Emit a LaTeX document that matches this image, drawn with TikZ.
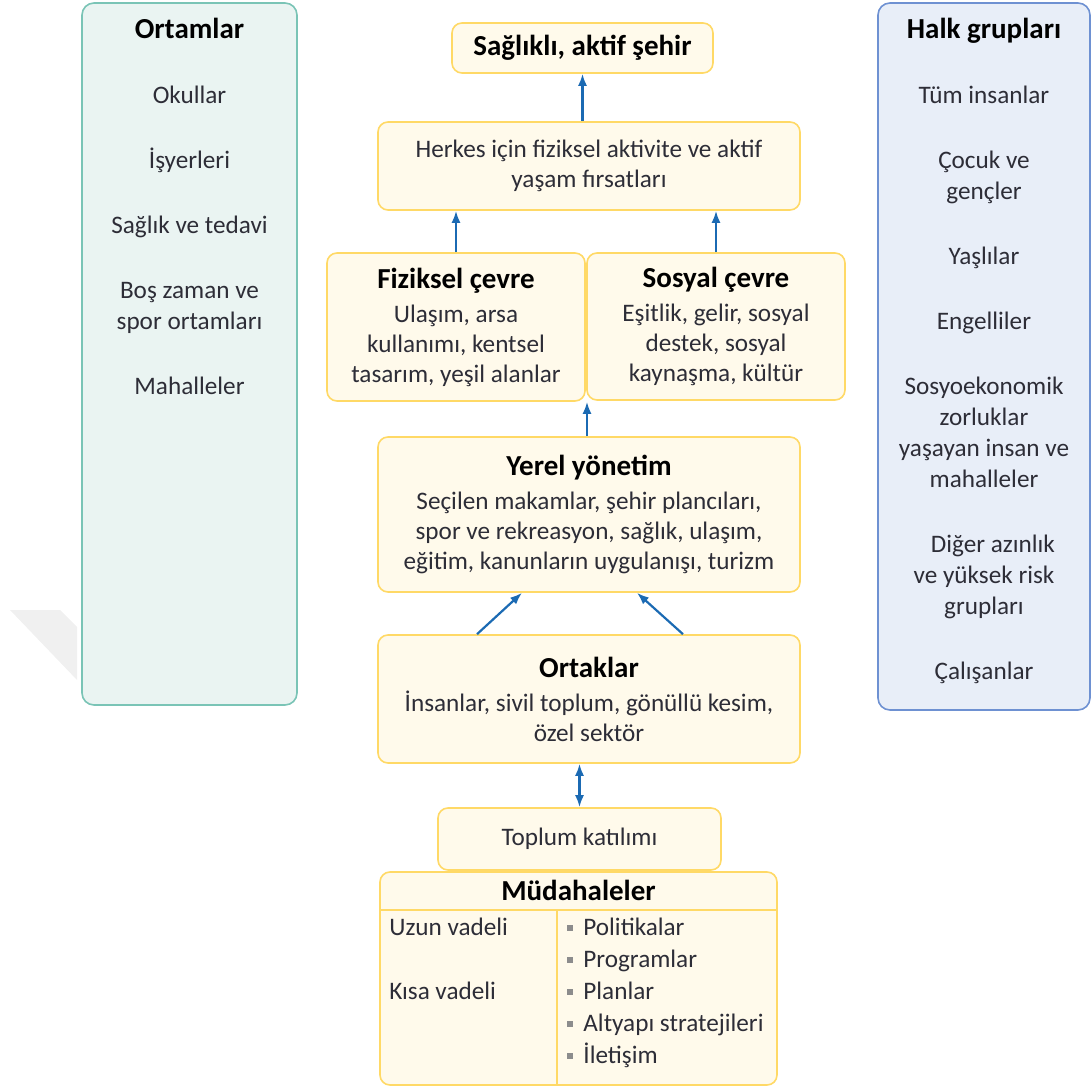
\documentclass[tikz,border=0pt]{standalone}
\usepackage{fontspec}
\setmainfont{Carlito}
\usetikzlibrary{positioning,calc,arrows.meta}
\definecolor{boxfill}{RGB}{255,250,235}
\definecolor{boxline}{RGB}{255,217,102}
\definecolor{tealfill}{RGB}{234,244,242}
\definecolor{tealline}{RGB}{122,196,182}
\definecolor{bluefill}{RGB}{232,238,248}
\definecolor{blueline}{RGB}{110,145,210}
\definecolor{arrowblue}{RGB}{27,106,179}
\definecolor{textdark}{RGB}{45,45,55}
\definecolor{bulletgray}{RGB}{140,140,140}
\newcommand{\titlefont}{\fontsize{14.5}{17}\selectfont\bfseries\color{black}}

\begin{document}
\begin{tikzpicture}[
    x=0.5pt, y=-0.5pt,
    font=\fontsize{12.6}{15}\selectfont, text=textdark,
    box/.style={rectangle, draw=boxline, fill=boxfill, line width=0.8pt, rounded corners=5pt, align=center, inner sep=0pt},
    sidebox/.style={rectangle, line width=0.8pt, rounded corners=6pt, inner sep=0pt},
    sidelist/.style={align=center, inner sep=0pt, font=\fontsize{12.6}{15.5}\selectfont},
    listtext/.style={inner sep=0pt, anchor=base west},
    link/.style={-{Latex[length=6pt,width=4.5pt]}, line width=1.1pt, draw=arrowblue},
    twoway/.style={link, {Latex[length=6pt,width=4.5pt]}-{Latex[length=6pt,width=4.5pt]}}
]
    \useasboundingbox (0,0) rectangle (1092,1090);

    % Watermark corner
    \fill[gray!12] (10,610) -- (60,610) -- (77,627) -- (77,680) -- cycle;

    % Settings (left)
    \node[sidebox, draw=tealline, fill=tealfill, minimum width=107.5pt, minimum height=351pt] (ortamlar) at (189.5,354) {};
    \node[sidelist, below=8pt of ortamlar.north] (ortamlarlist) {{\titlefont Ortamlar}\\[17pt]Okullar\\[17pt]İşyerleri\\[17pt]Sağlık ve tedavi\\[17pt]Boş zaman ve\\spor ortamları\\[17pt]Mahalleler};

    % Population groups (right)
    \node[sidebox, draw=blueline, fill=bluefill, minimum width=106pt, minimum height=353.5pt] (halk) at (984,356.5) {};
    \node[sidelist, below=8pt of halk.north] (halklist) {{\titlefont Halk grupları}\\[17pt]Tüm insanlar\\[17pt]Çocuk ve\\gençler\\[17pt]Yaşlılar\\[17pt]Engelliler\\[17pt]Sosyoekonomik\\zorluklar\\yaşayan insan ve\\mahalleler\\[17pt]\hspace*{0.7em}Diğer azınlık\\ve yüksek risk\\grupları\\[17pt]Çalışanlar};

    % Central column
    \node[box, minimum width=130.5pt, minimum height=25pt] (saglikli) at (582.5,48) {{\titlefont Sağlıklı, aktif şehir}};
    \node[box, minimum width=211pt, minimum height=44pt] (herkes) at (589,166) {Herkes için fiziksel aktivite ve aktif\\yaşam fırsatları};
    \node[box, minimum width=129pt, minimum height=74pt] (fiziksel) at (456,327) {{\titlefont Fiziksel çevre}\\[2pt]Ulaşım, arsa\\kullanımı, kentsel\\tasarım, yeşil alanlar};
    \node[box, minimum width=129pt, minimum height=73.5pt] (sosyal) at (716,326.5) {{\titlefont Sosyal çevre}\\[2pt]Eşitlik, gelir, sosyal\\destek, sosyal\\kaynaşma, kültür};
    \node[box, minimum width=211pt, minimum height=77.5pt] (yerel) at (589,514.5) {{\titlefont Yerel yönetim}\\[2pt]Seçilen makamlar, şehir plancıları,\\spor ve rekreasyon, sağlık, ulaşım,\\eğitim, kanunların uygulanışı, turizm};
    \node[box, minimum width=211pt, minimum height=64pt] (ortaklar) at (589,699) {{\titlefont Ortaklar}\\[2pt]İnsanlar, sivil toplum, gönüllü kesim,\\özel sektör};
    \node[box, minimum width=141.5pt, minimum height=31pt] (toplum) at (579.5,839) {Toplum katılımı};

    % Interventions
    \node[box, minimum width=198.5pt, minimum height=106.5pt] (mudahale) at (578.5,978.5) {};
    \node[anchor=base, inner sep=0pt] (mudtitle) at (578.5,900) {{\titlefont Müdahaleler}};
    \coordinate (headline) at (0,910);
    \coordinate (divtop) at (557,910);
    \draw[boxline, line width=0.8pt] (mudahale.west |- headline) -- (mudahale.east |- headline);
    \draw[boxline, line width=0.8pt] (divtop) -- (divtop |- mudahale.south);
    \node[listtext] (uzun) at (389,935) {Uzun vadeli};
    \node[listtext] (kisa) at (389,999) {Kısa vadeli};
    \foreach \txt [count=\i] in {Politikalar, Programlar, Planlar, Altyapı stratejileri, İletişim} {
        \node[listtext] (item\i) at (583,{935+32*(\i-1)}) {\txt};
        \fill[bulletgray] ($(item\i.base west)+(-16,-10)$) rectangle +(6,6);
    }

    % Arrows
    \draw[link] (saglikli.south |- herkes.north) -- (saglikli.south);
    \draw[link] (fiziksel.north) -- (fiziksel.north |- herkes.south);
    \draw[link] (sosyal.north) -- (sosyal.north |- herkes.south);
    \draw[link] ([xshift=-1pt]yerel.north) -- ([xshift=-1pt]yerel.north |- fiziksel.south);
    \draw[link] ([xshift=-56pt]ortaklar.north) -- ([xshift=-33.5pt]yerel.south);
    \draw[link] ([xshift=47pt]ortaklar.north) -- ([xshift=24pt]yerel.south);
    \draw[twoway] (toplum.north) -- (toplum.north |- ortaklar.south);
\end{tikzpicture}
\end{document}
